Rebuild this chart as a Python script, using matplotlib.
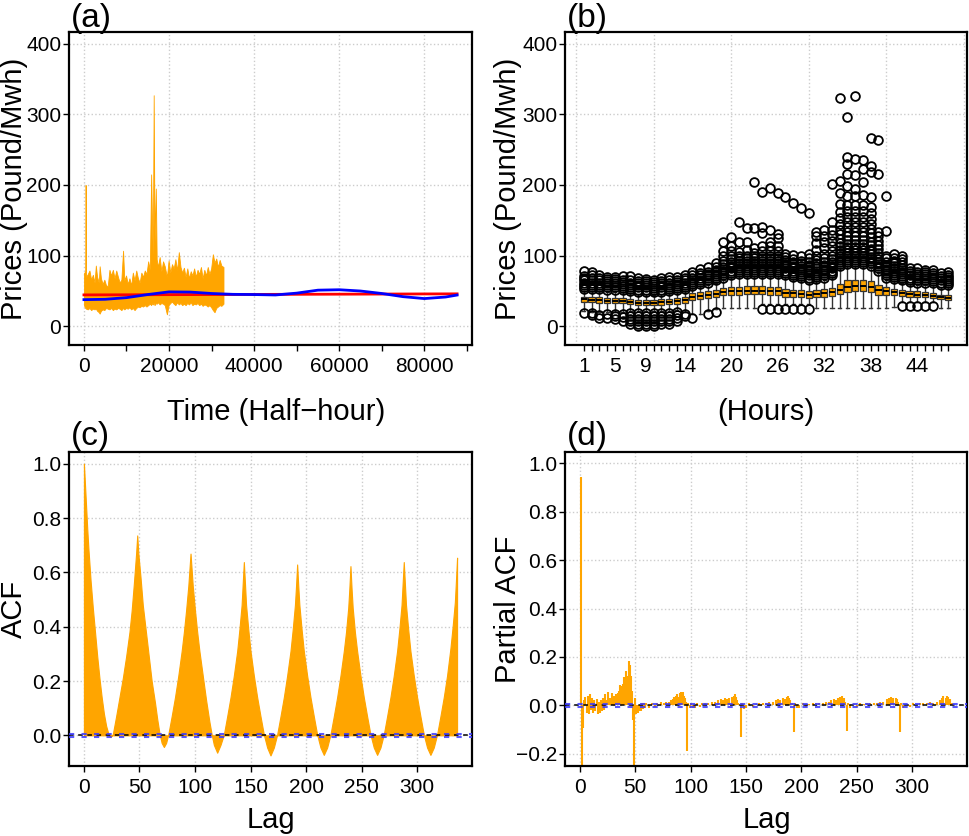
import matplotlib
matplotlib.use('Agg')
import matplotlib.pyplot as plt

plt.rcParams['font.family'] = ['Liberation Sans', 'DejaVu Sans']

ORANGE = '#FFA500'
GRIDC = '#cccccc'

ts_x = [0, 300, 400, 500, 900, 1300, 1700, 2100, 2500, 2800, 3100, 3500, 3700, 4000,
        4400, 4800, 5200, 5600, 6000, 6400, 6800, 7200, 7600, 8000, 8400, 8800, 9200,
        9500, 9900, 10300, 10700, 11100, 11500, 11900, 12300, 12700, 13100, 13500,
        13900, 14300, 14700, 15100, 15500, 15800, 16000, 16200, 16400, 16600, 16900,
        17100, 17400, 17800, 18200, 18600, 19000, 19500, 19900, 20300, 20700, 21100,
        21500, 21900, 22300, 22700, 23100, 23500, 23900, 24300, 24700, 25100, 25500,
        25900, 26300, 26700, 27100, 27500, 27900, 28300, 28700, 29100, 29500, 29900,
        30300, 30700, 31100, 31500, 31900, 32300, 32800]
ts_hi = [75, 78, 200, 70, 74, 79, 66, 73, 62, 86, 70, 62, 85, 68,
         60, 66, 58, 57, 80, 72, 80, 68, 79, 70, 62, 66, 107,
         65, 72, 60, 68, 58, 76, 65, 79, 68, 62, 76,
         70, 79, 74, 92, 80, 215, 150, 100, 327, 120, 195,
         95, 84, 98, 78, 92, 85, 70, 93, 76, 88, 82,
         95, 79, 105, 84, 76, 83, 70, 82, 68, 78, 72,
         82, 70, 80, 74, 84, 68, 80, 72, 84, 74, 82,
         102, 90, 96, 84, 94, 86, 84]
ts_lo = [30, 26, 26, 25, 24, 26, 23, 25, 24, 25, 22, 20, 18, 22,
         24, 23, 26, 25, 24, 26, 23, 25, 24, 26, 25, 23, 26,
         24, 26, 25, 27, 24, 26, 23, 26, 28, 27, 29,
         28, 30, 28, 30, 32, 30, 33, 31, 34, 30, 33,
         32, 34, 31, 33, 32, 30, 17, 30, 33, 35, 32,
         30, 34, 31, 33, 30, 32, 30, 33, 31, 34, 30,
         32, 31, 33, 30, 32, 29, 31, 30, 28, 30, 27,
         23, 20, 26, 28, 30, 29, 32]
trend_x = [0, 87700]
trend_y = [44.5, 46]
smooth_x = [0, 5000, 10000, 15000, 20000, 25000, 30000, 35000, 40000, 45000, 50000,
            55000, 60000, 65000, 70000, 75000, 80000, 85000, 87700]
smooth_y = [37.8, 38.3, 40.6, 45, 48.8, 48.5, 46.5, 45.3, 45, 44.4, 47,
            51.2, 51.8, 50, 46.5, 42, 39.3, 41.5, 44.3]

# ---- (b) price distribution for each of the 48 half-hour periods ----
hours = list(range(1, 49))
box_q1 = [34, 34, 33.5, 33, 33, 32.5, 31, 30, 30, 30, 30.5, 31, 32, 33.5, 37, 39,
          40, 41, 44, 45, 45, 45.5, 45.5, 45.5, 45, 44.5, 42, 41.5, 41, 40.5, 41, 42,
          43, 46, 49, 49.5, 49.5, 48.5, 45, 45, 44, 43, 42, 41.5, 41, 40, 38.5, 37.5]
box_med = [38, 37.5, 37, 36.5, 36, 35.5, 34.5, 33.5, 33, 33, 34, 34.5, 36, 37.5, 41.5, 43.5,
           45, 46, 49, 50, 50, 50.5, 50.5, 50.5, 50, 49.5, 47, 46.5, 45.5, 45, 46, 47,
           48.5, 52, 56, 56.5, 56.5, 55.5, 51, 50, 48.5, 47.5, 46, 45, 44.5, 43.5, 41.5, 40.5]
box_q3 = [42, 41.5, 41, 40.5, 40, 39.5, 38.5, 37.5, 37, 37, 38, 38.5, 40, 42, 46.5, 48.5,
          50, 51, 54.5, 56, 56, 56.5, 56.5, 56.5, 56, 55.5, 52.5, 52, 51, 50.5, 51.5, 52.5,
          54.5, 60, 65, 65.5, 65.5, 64, 58, 55, 53.5, 52, 50.5, 49.5, 48.5, 47.5, 45, 44]
whisk_lo = [22, 21, 20, 20, 20, 20, 22, 22, 22, 22, 22, 22, 23, 21, 17, 18,
            22, 24, 26, 26, 26, 26, 26, 32, 32, 32, 32, 32, 32, 32, 26, 26,
            26, 26, 26, 26, 26, 26, 26, 26, 27, 35, 35, 35, 35, 34, 26, 26]
whisk_hi = [50, 50, 50, 49, 49, 48, 47, 46, 46, 45, 46, 47, 48, 50, 54, 57,
            59, 62, 66, 70, 71, 71, 71, 71, 71, 71, 70, 67, 65, 63, 64, 66,
            70, 82, 85, 85, 85, 83, 76, 66, 64, 62, 60, 59, 59, 58, 56, 55]
out_hi = [
    [53, 56, 59, 62, 65, 68, 71, 79],
    [53, 56, 59, 62, 65, 68, 72, 77],
    [53, 56, 59, 62, 65, 68, 72],
    [52, 55, 58, 61, 64, 67, 70],
    [52, 55, 58, 61, 64, 67, 70],
    [51, 54, 57, 60, 63, 66, 71],
    [50, 53, 56, 59, 62, 65, 71],
    [49, 52, 55, 58, 61, 64, 69],
    [49, 52, 55, 58, 61, 64, 67],
    [48, 51, 54, 57, 60, 63, 66],
    [49, 52, 55, 58, 61, 64, 69],
    [50, 53, 56, 59, 62, 65, 70],
    [51, 54, 57, 60, 63, 66, 70],
    [53, 56, 59, 62, 65, 68, 73],
    [57, 60, 63, 66, 69, 72, 77],
    [60, 63, 66, 69, 72, 75, 81],
    [62, 65, 68, 71, 74, 77, 84],
    [65, 68, 71, 74, 77, 80, 84, 90],
    [69, 72, 75, 78, 81, 84, 88, 93, 100, 107, 119],
    [73, 76, 79, 82, 85, 88, 91, 95, 100, 106, 113, 126],
    [74, 77, 80, 83, 86, 89, 92, 96, 100, 105, 119, 147],
    [74, 77, 80, 83, 86, 89, 92, 96, 100, 108, 119, 139],
    [74, 77, 80, 83, 86, 89, 92, 96, 100, 104, 111, 139, 204],
    [74, 77, 80, 83, 86, 89, 92, 96, 100, 106, 113, 132, 141, 190],
    [74, 77, 80, 83, 86, 89, 92, 96, 100, 107, 114, 120, 136, 196],
    [74, 77, 80, 83, 86, 89, 92, 96, 100, 106, 113, 125, 131, 189],
    [73, 76, 79, 82, 85, 88, 91, 94, 98, 103, 183],
    [70, 73, 76, 79, 82, 85, 88, 91, 95, 101, 175],
    [68, 71, 74, 77, 80, 83, 86, 89, 93, 100, 168],
    [66, 69, 72, 75, 78, 81, 84, 87, 91, 96, 102, 161],
    [67, 70, 73, 76, 79, 82, 85, 89, 94, 100, 108, 118, 128, 134],
    [69, 72, 75, 78, 81, 84, 87, 91, 96, 103, 111, 119, 128, 136],
    [73, 76, 79, 82, 85, 88, 91, 95, 100, 106, 113, 121, 129, 136, 147, 202],
    [85, 88, 91, 94, 97, 100, 104, 108, 113, 118, 124, 130, 137, 145, 153, 162, 173, 188, 205, 323],
    [88, 91, 94, 97, 100, 104, 108, 112, 117, 122, 128, 134, 140, 147, 155, 163, 172, 184, 198, 216, 230, 240, 296],
    [88, 91, 94, 97, 100, 104, 108, 112, 117, 122, 128, 134, 140, 147, 155, 163, 172, 184, 195, 214, 237, 326],
    [88, 91, 94, 97, 100, 104, 108, 112, 117, 122, 128, 134, 140, 147, 155, 163, 172, 186, 204, 223, 235],
    [86, 89, 92, 95, 98, 102, 106, 110, 115, 120, 126, 132, 138, 145, 152, 160, 169, 183, 218, 227, 267],
    [79, 82, 85, 88, 91, 95, 99, 104, 109, 115, 121, 128, 134, 216, 263],
    [69, 72, 75, 78, 81, 84, 87, 91, 96, 100, 135, 184],
    [67, 70, 73, 76, 79, 82, 85, 89, 93, 97, 103],
    [65, 68, 71, 74, 77, 80, 83, 87, 91, 95, 99],
    [63, 66, 69, 72, 75, 78, 82],
    [62, 65, 68, 71, 74, 77, 82],
    [62, 65, 68, 71, 74, 77, 80],
    [61, 64, 67, 70, 73, 76, 80],
    [59, 62, 65, 68, 71, 75],
    [58, 61, 64, 67, 70, 73, 77],
]
out_lo = [
    [19], [19, 16], [16, 12], [17, 12], [18, 14, 10], [17, 13, 8],
    [19, 15, 11, 7, 3], [19, 15, 11, 7, 3, 1], [19, 15, 11, 7, 3, 1],
    [19, 15, 11, 7, 3, 1], [19, 15, 11, 7, 4], [19, 15, 11, 7, 4],
    [20, 16, 12, 8], [18, 14], [12], [], [17], [20],
    [], [], [], [], [], [25], [25], [25], [25], [25], [25], [25],
    [], [], [], [], [], [], [], [], [], [], [],
    [29], [29], [29], [29], [29], [], [],
]

# ---- (c) ACF of the series ----
acf_lag = [0, 1, 2, 3, 4, 6, 8, 10, 12, 14, 16, 18, 20, 22, 24,
           26, 29, 32, 35, 38, 41, 43, 45, 47, 48, 49, 51, 53, 55, 57, 59, 61, 64, 66, 68, 70, 72, 74,
           76, 79, 82, 85, 88, 90, 92, 94, 95, 96, 97, 98, 100, 102, 104, 107, 110, 113, 115, 117, 120, 123,
           126, 129, 132, 135, 138, 140, 142, 143, 144, 145, 146, 148, 150, 153, 156, 159, 162, 165, 168, 171,
           174, 177, 180, 183, 186, 188, 190, 191, 192, 193, 194, 196, 198, 201, 204, 207, 210, 213, 216, 219,
           222, 225, 228, 231, 234, 236, 238, 239, 240, 241, 242, 244, 246, 249, 252, 255, 258, 261, 264, 267,
           270, 273, 276, 279, 282, 284, 286, 287, 288, 289, 290, 292, 294, 297, 300, 303, 306, 309, 312, 315,
           318, 321, 324, 327, 330, 332, 334, 335, 336]
acf_val = [1.0, 0.92, 0.84, 0.76, 0.69, 0.57, 0.47, 0.38, 0.29, 0.21, 0.14, 0.08, 0.035, 0.006, -0.006,
           0.004, 0.07, 0.14, 0.21, 0.29, 0.38, 0.46, 0.56, 0.67, 0.736, 0.67, 0.58, 0.48, 0.41, 0.34, 0.27, 0.2, 0.12, 0.06, 0.008, -0.028, -0.043, -0.028,
           0.004, 0.07, 0.14, 0.22, 0.31, 0.38, 0.46, 0.55, 0.61, 0.669, 0.61, 0.55, 0.46, 0.38, 0.31, 0.22, 0.13, 0.05, 0.004, -0.035, -0.064, -0.035,
           0.003, 0.07, 0.14, 0.22, 0.31, 0.39, 0.48, 0.56, 0.638, 0.56, 0.48, 0.39, 0.31, 0.22, 0.14, 0.07, 0.003, -0.045, -0.074, -0.045,
           0.003, 0.07, 0.14, 0.22, 0.31, 0.39, 0.48, 0.55, 0.629, 0.55, 0.48, 0.39, 0.31, 0.22, 0.14, 0.07, 0.003, -0.045, -0.072, -0.045,
           0.003, 0.07, 0.14, 0.22, 0.31, 0.38, 0.47, 0.54, 0.623, 0.54, 0.47, 0.38, 0.31, 0.22, 0.14, 0.07, 0.003, -0.045, -0.072, -0.045,
           0.003, 0.07, 0.14, 0.22, 0.31, 0.39, 0.48, 0.56, 0.638, 0.56, 0.48, 0.39, 0.31, 0.22, 0.14, 0.07, 0.003, -0.045, -0.072, -0.045,
           0.003, 0.07, 0.14, 0.22, 0.32, 0.4, 0.49, 0.57, 0.654]

# ---- (d) partial ACF ----
pacf_lag = [1, 2, 3, 4, 5, 6, 7, 8, 9, 10, 11, 12, 13, 14, 15, 16, 17, 18, 19, 20,
            21, 22, 23, 24, 25, 26, 27, 28, 29, 30, 31, 32, 33, 34, 35, 36, 37, 38, 39, 40,
            41, 42, 43, 44, 45, 46, 47, 48, 49, 50, 51, 52, 53, 54, 55, 56, 57, 58, 59, 60,
            62, 65, 68, 70, 73, 76, 78, 80, 82, 84, 85, 86, 87, 88, 89, 90, 91, 92, 93, 94,
            95, 96, 97, 98, 99, 100, 102, 104, 106, 108, 110, 113, 116, 119, 122, 125, 127, 129, 131, 133,
            135, 137, 139, 140, 141, 142, 143, 145, 146, 148, 150, 153, 156, 159, 162, 165, 168, 171, 174, 177,
            179, 181, 183, 185, 187, 188, 189, 190, 191, 193, 194, 196, 198, 201, 204, 207, 210, 213, 216, 219,
            222, 225, 227, 229, 231, 233, 235, 237, 238, 239, 241, 242, 244, 247, 250, 253, 256, 259, 262, 265,
            268, 271, 274, 277, 279, 281, 283, 285, 286, 287, 289, 290, 292, 295, 298, 301, 304, 307, 310, 313,
            316, 319, 322, 325, 327, 328, 330, 331, 332, 333, 334, 335, 336]
pacf_val = [0.945, -0.30, -0.095, 0.02, 0.035, -0.03, 0.04, -0.035, 0.045, -0.02, 0.03, -0.03, 0.02, -0.025, 0.025, -0.035, 0.015, -0.03, 0.02, -0.025,
            0.03, -0.02, 0.045, 0.02, 0.055, 0.015, 0.03, 0.02, 0.05, 0.025, 0.04, 0.03, 0.045, 0.05, 0.06, 0.085, 0.06, 0.08, 0.09, 0.115,
            0.095, 0.14, 0.12, 0.185, 0.165, 0.12, 0.06, -0.06, -0.30, 0.03, -0.035, -0.03, -0.025, -0.02, -0.025, 0.01, -0.015, 0.01, -0.01, 0.008,
            -0.01, 0.01, -0.008, 0.01, 0.012, 0.01, 0.015, 0.012, 0.02, 0.025, 0.035, 0.03, 0.04, 0.045, 0.035, 0.05, 0.055, 0.05, 0.055, 0.04,
            0.03, 0.015, -0.19, 0.01, -0.01, 0.008, -0.012, -0.01, 0.008, -0.008, 0.01, 0.008, 0.01, 0.012, 0.015, 0.02, 0.025, 0.02, 0.03, 0.025,
            0.03, 0.035, 0.04, 0.045, 0.035, 0.02, 0.01, -0.13, 0.008, -0.015, -0.01, 0.008, -0.008, 0.006, 0.008, 0.01, 0.01, 0.012, 0.015, 0.02,
            0.025, 0.02, 0.03, 0.025, 0.035, 0.037, 0.03, 0.02, 0.01, -0.11, 0.008, -0.012, -0.01, 0.008, -0.008, 0.006, 0.008, 0.01, 0.01, 0.008,
            0.012, 0.015, 0.02, 0.025, 0.02, 0.03, 0.035, 0.04, 0.03, 0.015, -0.105, 0.008, -0.01, 0.006, -0.008, 0.008, 0.006, 0.01, 0.008, 0.01,
            0.01, 0.012, 0.015, 0.025, 0.03, 0.035, 0.03, 0.03, 0.025, 0.015, -0.11, 0.008, -0.01, 0.006, -0.008, 0.008, 0.006, 0.01, 0.008, 0.01,
            0.012, 0.01, 0.015, 0.02, 0.03, 0.04, 0.03, 0.04, 0.035, 0.02, 0.025, 0.01, 0.008]
ci = 0.0066


def frame(ax):
    for s in ax.spines.values():
        s.set_linewidth(1.6)
    ax.tick_params(direction='out', length=4.5, width=1, labelsize=15)
    ax.tick_params(axis='x', pad=4)
    ax.tick_params(axis='y', pad=1)


def gridlines(ax, xs, ys):
    for x in xs:
        ax.axvline(x, color=GRIDC, ls=':', lw=1, zorder=0)
    for y in ys:
        ax.axhline(y, color=GRIDC, ls=':', lw=1, zorder=0)


def zero_band(ax):
    ax.axhline(0, color='black', ls=(0, (3, 3)), lw=1.1, zorder=3)
    for c in (ci, -ci):
        ax.axhline(c, color='#3a3aff', ls=(0, (2.5, 3.5)), lw=1.5, alpha=0.85, zorder=4)


fig = plt.figure(figsize=(9.69, 8.36), dpi=100)
axa = fig.add_axes([0.0712, 0.5873, 0.4159, 0.3744])
axb = fig.add_axes([0.5831, 0.5873, 0.4149, 0.3744])
axc = fig.add_axes([0.0712, 0.0837, 0.4159, 0.3756])
axd = fig.add_axes([0.5831, 0.0837, 0.4149, 0.3756])

# (a)
gridlines(axa, range(0, 80001, 20000), range(0, 401, 100))
axa.fill_between(ts_x, ts_lo, ts_hi, color=ORANGE, lw=0.6, edgecolor=ORANGE, zorder=2)
axa.plot(trend_x, trend_y, color='red', lw=2, zorder=3)
axa.plot(smooth_x, smooth_y, color='blue', lw=2, zorder=4)
axa.set_xlim(-3508, 91208)
axa.set_ylim(-26.4, 416.4)
axa.set_xticks(range(0, 90001, 10000))
axa.set_xticklabels([str(v) if v % 20000 == 0 else '' for v in range(0, 90001, 10000)])
axa.set_yticks(range(0, 401, 100))
frame(axa)

# (b)
gridlines(axb, range(0, 51, 10), range(0, 401, 100))
stats = []
for i in range(len(hours)):
    stats.append(dict(med=box_med[i], q1=box_q1[i], q3=box_q3[i],
                      whislo=whisk_lo[i], whishi=whisk_hi[i],
                      fliers=out_hi[i] + out_lo[i]))
axb.bxp(stats, positions=hours, widths=0.8, capwidths=0.4, patch_artist=True,
        boxprops=dict(facecolor=ORANGE, edgecolor='#333333', lw=0.9),
        medianprops=dict(color='black', lw=1.4),
        whiskerprops=dict(color='#333333', lw=1),
        capprops=dict(color='#333333', lw=1),
        flierprops=dict(marker='o', mfc='none', mec='black', ms=6.3, mew=1.3))
axb.set_xlim(-1.42, 50.42)
axb.set_ylim(-26.4, 416.4)
shown = [1, 5, 9, 14, 20, 26, 32, 38, 44]
axb.set_xticks(hours)
axb.set_xticklabels([str(h) if h in shown else '' for h in hours])
axb.set_yticks(range(0, 401, 100))
frame(axb)

# (c)
gridlines(axc, range(0, 301, 50), [0, 0.2, 0.4, 0.6, 0.8, 1.0])
axc.fill_between(acf_lag, 0, acf_val, color=ORANGE, lw=0.8, edgecolor=ORANGE, zorder=2)
zero_band(axc)
axc.set_xlim(-13.44, 349.44)
axc.set_ylim(-0.113, 1.043)
axc.set_xticks(range(0, 301, 50))
axc.set_yticks([0, 0.2, 0.4, 0.6, 0.8, 1.0])
axc.set_yticklabels(['0.0', '0.2', '0.4', '0.6', '0.8', '1.0'])
frame(axc)

# (d)
gridlines(axd, range(0, 301, 50), [-0.2, 0, 0.2, 0.4, 0.6, 0.8, 1.0])
axd.vlines(pacf_lag, 0, pacf_val, color=ORANGE, lw=1.5, zorder=2)
zero_band(axd)
axd.set_xlim(-13.44, 349.44)
axd.set_ylim(-0.251, 1.047)
axd.set_xticks(range(0, 301, 50))
axd.set_yticks([-0.2, 0, 0.2, 0.4, 0.6, 0.8, 1.0])
axd.set_yticklabels(['\u22120.2', '0.0', '0.2', '0.4', '0.6', '0.8', '1.0'])
frame(axd)

# axis titles and panel letters
W, H = 969.0, 836.0
fs_lab = 21
fig.text(14 / W, 1 - 188.5 / H, 'Prices (Pound/Mwh)', rotation=90, ha='center', va='center', fontsize=fs_lab)
fig.text(508 / W, 1 - 188.5 / H, 'Prices (Pound/Mwh)', rotation=90, ha='center', va='center', fontsize=fs_lab)
fig.text(14 / W, 1 - 609 / H, 'ACF', rotation=90, ha='center', va='center', fontsize=fs_lab)
fig.text(508 / W, 1 - 609 / H, 'Partial ACF', rotation=90, ha='center', va='center', fontsize=fs_lab)
fig.text(276 / W, 1 - 420 / H, 'Time (Half\u2212hour)', ha='center', va='baseline', fontsize=fs_lab)
fig.text(766 / W, 1 - 420 / H, '(Hours)', ha='center', va='baseline', fontsize=fs_lab)
fig.text(271 / W, 1 - 828 / H, 'Lag', ha='center', va='baseline', fontsize=fs_lab)
fig.text(766.5 / W, 1 - 828 / H, 'Lag', ha='center', va='baseline', fontsize=fs_lab)

for x, y, s in [(71, 27, '(a)'), (567, 27, '(b)'), (71, 445, '(c)'), (567, 445, '(d)')]:
    fig.text(x / W, 1 - y / H, s, ha='left', va='baseline', fontsize=24)

fig.savefig('out.png', dpi=100)
